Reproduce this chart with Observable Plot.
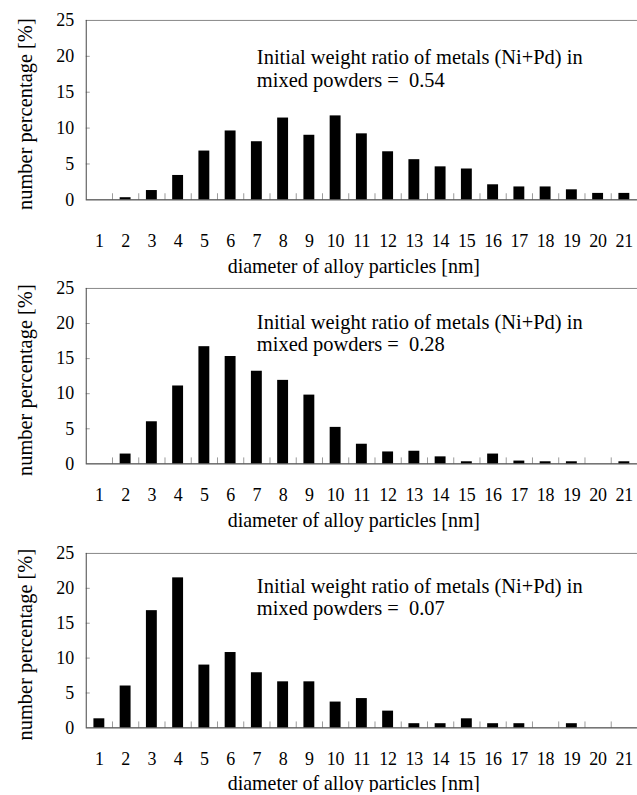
<!DOCTYPE html>
<html>
<head>
<meta charset="utf-8">
<script src="https://cdn.jsdelivr.net/npm/d3@7"></script>
<script src="https://cdn.jsdelivr.net/npm/@observablehq/plot@0.6"></script>
<style>
  html, body { margin: 0; padding: 0; background: #fff; overflow: hidden; }
  #chart svg { display: block; }
  #chart svg, #chart svg text { font-family: "Liberation Serif", "Times New Roman", serif !important; }
</style>
</head>
<body>
<div id="chart"></div>
<script>
// ---- data ----
const diameters = [1,2,3,4,5,6,7,8,9,10,11,12,13,14,15,16,17,18,19,20,21];
const yTicks = [0, 5, 10, 15, 20, 25];
const ratios = ["0.54", "0.28", "0.07"];
const values054 = [0, 0.3, 1.3, 3.4, 6.8, 9.6, 8.1, 11.4, 9.0, 11.7, 9.2, 6.7, 5.6, 4.6, 4.3, 2.1, 1.8, 1.8, 1.4, 0.9, 0.9];
const values028 = [0, 1.4, 6.0, 11.1, 16.7, 15.3, 13.2, 11.9, 9.8, 5.2, 2.8, 1.7, 1.8, 1.0, 0.3, 1.4, 0.4, 0.3, 0.3, 0, 0.3];
const values007 = [1.3, 6.0, 16.8, 21.5, 9.0, 10.8, 7.9, 6.6, 6.6, 3.7, 4.2, 2.4, 0.6, 0.6, 1.3, 0.6, 0.6, 0, 0.6, 0, 0];
const xTitle = "diameter of alloy particles [nm]";
const yTitle = "number percentage [%]";
const noteLine1 = "Initial weight ratio of metals (Ni+Pd) in";
const notePrefix = "mixed powders =  ";

const FONT = "'Liberation Serif', 'Times New Roman', serif";

function panel(values, ratio, layout) {
  const data = diameters.map((d, i) => ({d, v: values[i]}));
  const boundaries = diameters.slice(0, -1).map(d => d + 0.5);
  const note = noteLine1 + "\n" + notePrefix + ratio;
  return Plot.plot({
    width: 639,
    height: layout.height,
    marginLeft: 86,
    marginRight: 0,
    marginTop: layout.top,
    marginBottom: layout.bottom,
    style: {fontFamily: FONT, fontSize: "18px", color: "#000", background: "#fff", overflow: "visible"},
    x: {domain: [0.5, 21.5], axis: null},
    y: {domain: [0, 25], axis: null},
    marks: [
      Plot.rectY(data, {x1: d => d.d - 0.5, x2: d => d.d + 0.5, y: "v", fill: "#000", insetLeft: 7.7, insetRight: 7.7}),
      Plot.ruleX(boundaries, {y1: 0, y2: 0.85, stroke: "#9a9a9a"}),
      Plot.axisY({ticks: yTicks.slice(1, -1), tickSize: -4, tickFormat: () => "", stroke: "#9a9a9a", label: null}),
      Plot.axisY({ticks: yTicks, tickSize: 0, tickPadding: 12, fontSize: 18, label: null}),
      Plot.axisX({ticks: diameters, tickSize: 0, tickPadding: layout.labelPad, fontSize: 18, tickFormat: d => String(d), label: null}),
      Plot.ruleY([25], {stroke: "#888"}),
      Plot.ruleX([0.5], {stroke: "#444"}),
      Plot.ruleY([0], {stroke: "#222"}),
      Plot.text([note], {x: 7.0, y: layout.noteY, textAnchor: "start", lineAnchor: "middle", lineHeight: 1.12, fontSize: 20.5}),
      Plot.text([xTitle], {frameAnchor: "bottom", dx: -8, dy: layout.titleDy, lineAnchor: "middle", fontSize: 20}),
      Plot.text([yTitle], {frameAnchor: "left", textAnchor: "middle", dx: -61, dy: 4, rotate: -90, fontSize: 20.5})
    ]
  });
}

const root = document.getElementById("chart");
root.appendChild(panel(values054, ratios[0], {height: 270, top: 20, bottom: 70, labelPad: 34, titleDy: 67, noteY: 18.3}));
root.appendChild(panel(values028, ratios[1], {height: 265, top: 19, bottom: 70, labelPad: 24, titleDy: 57, noteY: 18.7}));
root.appendChild(panel(values007, ratios[2], {height: 260, top: 20, bottom: 65, labelPad: 24, titleDy: 56, noteY: 18.8}));
</script>
</body>
</html>
